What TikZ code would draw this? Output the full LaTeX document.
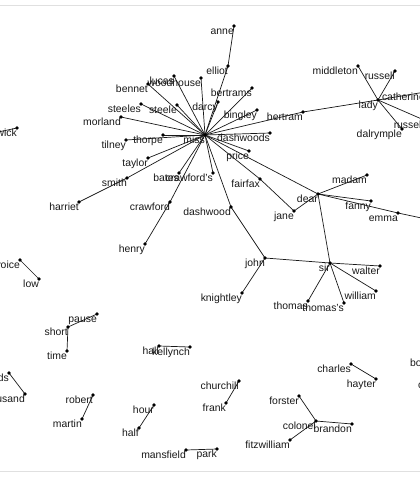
\documentclass[tikz,border=0pt]{standalone}
\usepackage{fontspec}
\setmainfont{Liberation Sans}
\usetikzlibrary{backgrounds}
\tikzset{
  dot/.style={circle,fill=black,inner sep=0pt,minimum size=3.8pt},
  lab/.style={anchor=north east,inner sep=0pt,text height=8pt,text depth=2pt,
    font=\fontsize{10.4}{12}\selectfont,text=black!90},
  edge/.style={draw=black!90,line width=0.7pt},
  frame/.style={draw=black!12,line width=0.8pt}
}
\newcommand\nd[4]{\node[dot] (#1) at (#2,#3) {}; \node[lab] (#1-t) at (#1.center) {#4};}
\newcommand\ed[2]{\draw[edge] (#1.center) -- (#2.center);}
\begin{document}
\begin{tikzpicture}[x=1pt,y=-1pt]
\useasboundingbox (0,0) rectangle (420,480);
\clip (0,0) rectangle (420,480);
% main component
\nd{miss}{205}{135}{miss}
\nd{anne}{234}{26}{anne}
\nd{elliot}{228}{66}{elliot}
\nd{lucas}{174}{76}{lucas}
\nd{woodhouse}{201}{78}{woodhouse}
\nd{bennet}{148}{84}{bennet}
\nd{bertrams}{252}{88}{bertrams}
\nd{darcy}{218}{102}{darcy}
\nd{bingley}{257}{110}{bingley}
\nd{steeles}{141}{104}{steeles}
\nd{steele}{177}{105}{steele}
\nd{morland}{121}{117}{morland}
\nd{dashwoods}{270}{133}{dashwoods}
\nd{thorpe}{163}{135}{thorpe}
\nd{tilney}{126}{140}{tilney}
\nd{price}{249}{151}{price}
\nd{taylor}{148}{158}{taylor}
\nd{smith}{127}{178}{smith}
\nd{harriet}{79}{202}{harriet}
\nd{bates}{179}{173}{bates}
\nd{crawfords}{213}{173}{crawford's}
\nd{crawford}{170}{202}{crawford}
\nd{henry}{145}{244}{henry}
\nd{fairfax}{260}{179}{fairfax}
\nd{jane}{294}{211}{jane}
\nd{dear}{318}{194}{dear}
\nd{madam}{367}{175}{madam}
\nd{fanny}{371}{201}{fanny}
\nd{emma}{398}{213}{emma}
\coordinate (emmax) at (445,223);
\nd{dashwood}{231}{207}{dashwood}
\nd{john}{265}{258}{john}
\nd{knightley}{242}{293}{knightley}
\nd{sir}{330}{263}{sir}
\nd{walter}{380}{266}{walter}
\nd{william}{376}{291}{william}
\nd{thomas}{308}{301}{thomas}
\nd{thomass}{344}{303}{thomas's}
\nd{bertram}{303}{112}{bertram}
\nd{lady}{378}{100}{lady}
\nd{middleton}{358}{66}{middleton}
\nd{russella}{395}{71}{russell}
\nd{catherine}{425}{92}{catherine}
\nd{russellb}{424}{120}{russell}
\nd{dalrymple}{402}{129}{dalrymple}
% small components
\nd{benwick}{17}{128}{benwick}
\coordinate (captain) at (-30,138);
\nd{voice}{20}{260}{voice}
\nd{low}{39}{279}{low}
\nd{pause}{97}{314}{pause}
\nd{short}{68}{327}{short}
\nd{time}{67}{351}{time}
\nd{hall}{159}{346}{hall}
\nd{kellynch}{190}{347}{kellynch}
\nd{pounds}{9}{373}{pounds}
\nd{thousand}{25}{394}{thousand}
\nd{robert}{93}{395}{robert}
\nd{martin}{82}{419}{martin}
\nd{hour}{154}{405}{hour}
\nd{half}{139}{428}{half}
\nd{mansfield}{186}{450}{mansfield}
\nd{park}{217}{449}{park}
\nd{churchill}{239}{381}{churchill}
\nd{frank}{226}{403}{frank}
\nd{charles}{351}{364}{charles}
\nd{hayter}{376}{379}{hayter}
\nd{forster}{299}{396}{forster}
\nd{colonel}{316}{421}{colonel}
\nd{brandon}{352}{424}{brandon}
\nd{fitzwilliam}{290}{440}{fitzwilliam}
\nd{box}{427}{358}{box}
\nd{campbell}{460}{380}{campbell}
\begin{scope}[on background layer]
\fill[white] (0,0) rectangle (420,480);
\draw[frame] (-10,5) -- (430,5);
\draw[frame] (-10,471) -- (430,471);
\ed{anne}{elliot}\ed{elliot}{miss}\ed{lucas}{miss}\ed{woodhouse}{miss}
\ed{bennet}{miss}\ed{bertrams}{miss}\ed{darcy}{miss}\ed{bingley}{miss}
\ed{steeles}{miss}\ed{steele}{miss}\ed{morland}{miss}\ed{dashwoods}{miss}
\ed{thorpe}{miss}\ed{tilney}{miss}\ed{price}{miss}\ed{taylor}{miss}
\ed{smith}{miss}\ed{harriet}{smith}\ed{bates}{miss}\ed{crawfords}{miss}
\ed{crawford}{miss}\ed{henry}{crawford}\ed{fairfax}{miss}\ed{jane}{fairfax}
\ed{miss}{dear}\ed{miss}{dashwood}\ed{dashwood}{john}\ed{miss}{bertram}
\ed{bertram}{lady}\ed{lady}{middleton}\ed{lady}{russella}\ed{lady}{catherine}
\ed{lady}{russellb}\ed{lady}{dalrymple}\ed{dear}{madam}\ed{dear}{fanny}
\ed{dear}{emma}\ed{emma}{emmax}\ed{dear}{jane}\ed{dear}{sir}\ed{john}{sir}
\ed{john}{knightley}\ed{sir}{walter}\ed{sir}{william}\ed{sir}{thomas}
\ed{sir}{thomass}\ed{benwick}{captain}\ed{low}{voice}\ed{short}{pause}
\ed{short}{time}\ed{hall}{kellynch}\ed{pounds}{thousand}\ed{robert}{martin}
\ed{hour}{half}\ed{mansfield}{park}\ed{churchill}{frank}\ed{charles}{hayter}
\ed{colonel}{forster}\ed{colonel}{brandon}\ed{colonel}{fitzwilliam}
\end{scope}
\end{tikzpicture}
\end{document}
